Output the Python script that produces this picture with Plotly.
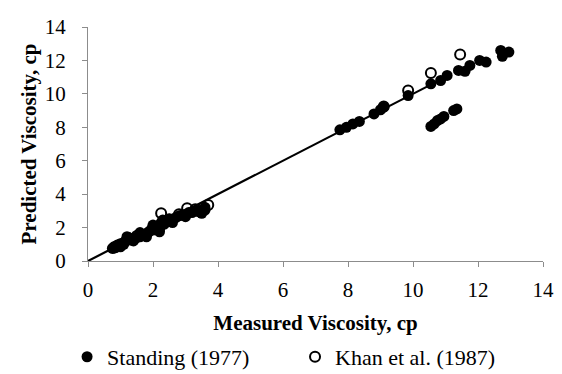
import plotly.graph_objects as go

# Standing (1977): measured vs predicted viscosity, cp
standing_x = [0.75, 0.8, 0.85, 0.9, 0.95, 1.0, 1.0, 1.05, 1.1, 1.15, 1.2, 1.25, 1.3, 1.35, 1.4, 1.4,
              1.5, 1.55, 1.6, 1.6, 1.7, 1.75, 1.8, 1.8, 1.85, 1.9, 2.0, 2.0, 2.05, 2.1, 2.15, 2.2, 2.2,
              2.2, 2.25, 2.3, 2.3, 2.35, 2.4, 2.5, 2.6, 2.6, 2.7, 2.8, 2.9, 3.0, 3.0, 3.1, 3.2, 3.3,
              3.4, 3.5, 3.5, 3.6, 3.6,
              7.75, 7.95, 8.15, 8.35, 8.8, 9.0, 9.1, 9.85, 10.55, 10.85, 11.05, 11.4, 11.6, 11.75,
              12.05, 12.25, 12.7, 12.75, 12.95,
              10.55, 10.65, 10.75, 10.85, 10.95, 11.25, 11.35]
standing_y = [0.75, 0.85, 0.8, 0.95, 0.9, 1.0, 0.85, 1.05, 1.0, 1.2, 1.45, 1.4, 1.25, 1.3, 1.35, 1.2,
              1.4, 1.5, 1.45, 1.7, 1.55, 1.6, 1.65, 1.45, 1.7, 1.8, 1.85, 2.15, 1.95, 2.0, 2.1, 2.1, 1.9,
              1.75, 2.3, 2.35, 2.45, 2.2, 2.4, 2.5, 2.5, 2.3, 2.6, 2.7, 2.75, 2.8, 2.65, 2.9, 2.9, 3.0,
              2.95, 3.0, 2.85, 3.05, 3.2,
              7.85, 8.0, 8.2, 8.35, 8.8, 9.05, 9.2, 9.9, 10.6, 10.8, 11.1, 11.4, 11.35, 11.7,
              12.0, 11.9, 12.6, 12.25, 12.5,
              8.05, 8.2, 8.4, 8.5, 8.65, 9.0, 9.1]

# Khan et al. (1987)
khan_x = [0.8, 1.0, 1.5, 2.0, 2.25, 2.5, 2.8, 3.05, 3.3, 3.55, 3.7, 9.1, 9.85, 10.55, 11.45]
khan_y = [0.8, 1.0, 1.5, 2.0, 2.85, 2.5, 2.8, 3.15, 3.1, 3.2, 3.35, 9.25, 10.2, 11.25, 12.35]

# 1:1 reference line
line_x = [0, 11]
line_y = [0, 11]

SERIF = "Liberation Serif, Times New Roman, serif"

fig = go.Figure()
fig.add_trace(go.Scatter(x=line_x, y=line_y, mode="lines",
                         line=dict(color="black", width=2.2), showlegend=False, hoverinfo="skip"))
fig.add_trace(go.Scatter(x=khan_x, y=khan_y, mode="markers", name="Khan et al. (1987)",
                         legend="legend2",
                         marker=dict(size=10, color="rgba(0,0,0,0)", line=dict(color="black", width=2))))
fig.add_trace(go.Scatter(x=standing_x, y=standing_y, mode="markers", name="Standing (1977)",
                         legend="legend",
                         marker=dict(size=11, color="black", line=dict(color="black", width=0))))

axis_common = dict(range=[0, 14], dtick=2, showgrid=False, zeroline=False, showline=True,
                   linecolor="#8c8c8c", linewidth=1, ticks="outside", ticklen=5, tickcolor="#8c8c8c",
                   ticklabeloverflow="allow",
                   tickfont=dict(family=SERIF, size=21, color="black"))

legend_common = dict(orientation="h", yanchor="middle", y=-0.41, xanchor="left",
                     font=dict(size=22, family=SERIF, color="black"), bgcolor="rgba(0,0,0,0)")

fig.update_layout(
    width=554, height=384,
    margin=dict(l=80, r=19, t=7, b=131),
    paper_bgcolor="white", plot_bgcolor="white",
    font=dict(family=SERIF, color="black", size=21),
    xaxis=dict(**axis_common, ticklabelstandoff=5,
               title=dict(text="<b>Measured Viscosity, cp</b>", font=dict(size=21, family=SERIF),
                          standoff=14)),
    yaxis=dict(**axis_common, ticklabelstandoff=12,
               title=dict(text="<b>Predicted Viscosity, cp</b>", font=dict(size=21, family=SERIF),
                          standoff=2)),
    legend=dict(**legend_common, x=-0.046),
    legend2=dict(**legend_common, x=0.455),
)

fig.write_html("out.html")
